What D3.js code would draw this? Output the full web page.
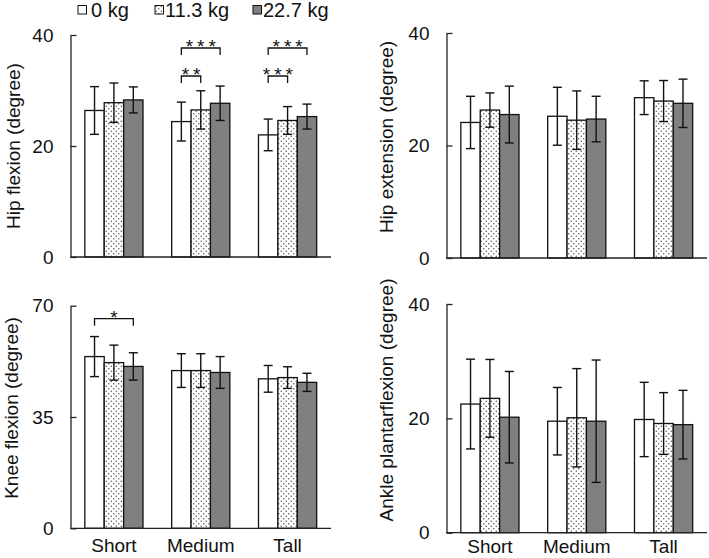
<!DOCTYPE html>
<html>
<head>
<meta charset="utf-8">
<script src="https://cdn.jsdelivr.net/npm/d3@7"></script>
<style>
  body { margin: 0; background: #fff; }
  svg { display: block; font-family: "Liberation Sans", Arial, sans-serif; }
</style>
</head>
<body>
<svg class="chart" width="709" height="558"></svg>
<script>
// categories and series
var groups = ["Short", "Medium", "Tall"];
var loads = ["0 kg", "11.3 kg", "22.7 kg"];

// means [group][load] and SD (degree)
var hipFlexMean = [[26.4, 27.8, 28.3], [24.4, 26.5, 27.7], [22.0, 24.6, 25.3]];
var hipFlexSD   = [[4.3, 3.55, 2.35], [3.5, 3.45, 3.1], [2.85, 2.5, 2.25]];
var hipExtMean  = [[24.1, 26.3, 25.5], [25.2, 24.5, 24.7], [28.5, 27.9, 27.5]];
var hipExtSD    = [[4.65, 3.05, 5.05], [5.15, 5.2, 4.05], [3.0, 3.65, 4.3]];
var kneeMean    = [[54.0, 52.1, 50.9], [49.6, 49.6, 49.0], [47.0, 47.4, 45.9]];
var kneeSD      = [[6.3, 5.5, 4.3], [5.3, 5.3, 5.0], [4.2, 3.4, 2.85]];
var ankleMean   = [[22.5, 23.5, 20.2], [19.5, 20.1, 19.5], [19.8, 19.1, 18.9]];
var ankleSD     = [[7.85, 6.8, 8.0], [5.9, 8.6, 10.7], [6.5, 5.4, 6.0]];

// tick labels
var ticks40 = [0, 20, 40];
var ticks70 = [0, 35, 70];

// significance brackets: group, from load, to load, tier (1 = upper), label
var hipFlexSig = [
  {group: "Medium", from: 0, to: 2, tier: 1, label: "***"},
  {group: "Medium", from: 0, to: 1, tier: 0, label: "**"},
  {group: "Tall",   from: 0, to: 2, tier: 1, label: "***"},
  {group: "Tall",   from: 0, to: 1, tier: 0, label: "***"}
];
var kneeSig = [
  {group: "Short", from: 0, to: 2, tier: 1, label: "*"}
];

var svg = d3.select("svg.chart");
svg.append("rect").attr("width", 709).attr("height", 558).attr("fill", "#fff");

// dotted fill for the 11.3 kg bars
var defs = svg.append("defs");
var pat = defs.append("pattern").attr("id", "dots")
    .attr("patternUnits", "userSpaceOnUse").attr("width", 5).attr("height", 5);
pat.append("rect").attr("width", 5).attr("height", 5).attr("fill", "#fff");
pat.append("circle").attr("cx", 1.25).attr("cy", 1.25).attr("r", 0.7).attr("fill", "#444");
pat.append("circle").attr("cx", 3.75).attr("cy", 3.75).attr("r", 0.7).attr("fill", "#444");

var fills = ["#fff", "url(#dots)", "#808080"];
var fs = 19;

function panel(cfg) {
  var g = svg.append("g");
  var x = d3.scaleBand().domain(groups).range([cfg.x0, cfg.x1])
      .paddingInner(0.33).paddingOuter(0.165);
  var xi = d3.scaleBand().domain(d3.range(loads.length)).range([0, x.bandwidth()]);
  var y = d3.scaleLinear().domain([0, cfg.max]).range([cfg.yBot, cfg.yTop]);

  var rows = [];
  groups.forEach(function(grp, gi) {
    loads.forEach(function(l, li) {
      rows.push({group: grp, li: li, mean: cfg.mean[gi][li], sd: cfg.sd[gi][li]});
    });
  });

  g.selectAll("rect.bar").data(rows).enter().append("rect")
      .attr("class", "bar")
      .attr("x", function(d) { return x(d.group) + xi(d.li); })
      .attr("y", function(d) { return y(d.mean); })
      .attr("width", xi.bandwidth())
      .attr("height", function(d) { return y(0) - y(d.mean); })
      .attr("fill", function(d) { return fills[d.li]; })
      .attr("stroke", "#111").attr("stroke-width", 1.3);

  var eb = g.selectAll("g.err").data(rows).enter().append("g")
      .attr("class", "err")
      .attr("transform", function(d) { return "translate(" + (x(d.group) + xi(d.li) + xi.bandwidth() / 2) + ",0)"; })
      .attr("stroke", "#111").attr("stroke-width", 1.4);
  eb.append("line").attr("y1", function(d) { return y(d.mean - d.sd); })
      .attr("y2", function(d) { return y(d.mean + d.sd); });
  eb.append("line").attr("x1", -4.5).attr("x2", 4.5)
      .attr("y1", function(d) { return y(d.mean + d.sd); })
      .attr("y2", function(d) { return y(d.mean + d.sd); });
  eb.append("line").attr("x1", -4.5).attr("x2", 4.5)
      .attr("y1", function(d) { return y(d.mean - d.sd); })
      .attr("y2", function(d) { return y(d.mean - d.sd); });

  // y axis, ticks pointing inward
  var ax = g.append("g").attr("transform", "translate(" + cfg.x0 + ",0)")
      .call(d3.axisLeft(y).tickValues(cfg.ticks).tickSize(-6).tickSizeOuter(0).tickPadding(17));
  ax.selectAll("path, line").attr("stroke", "#222").attr("stroke-width", 1.3);
  ax.selectAll("text").attr("font-size", fs).attr("fill", "#111")
      .attr("font-family", "Liberation Sans, Arial, sans-serif");

  // baseline
  g.append("line").attr("x1", cfg.x0).attr("x2", cfg.x1)
      .attr("y1", y(0)).attr("y2", y(0))
      .attr("stroke", "#222").attr("stroke-width", 1.3);

  g.append("text")
      .attr("transform", "translate(" + cfg.titleX + "," + cfg.titleY + ") rotate(-90)")
      .attr("text-anchor", "middle").attr("dominant-baseline", "central")
      .attr("font-size", fs).attr("fill", "#111")
      .text(cfg.title);

  if (cfg.cats) {
    g.selectAll("text.cat").data(groups).enter().append("text")
        .attr("class", "cat")
        .attr("x", function(d) { return x(d) + x.bandwidth() / 2; })
        .attr("y", cfg.catY)
        .attr("text-anchor", "middle").attr("font-size", fs).attr("fill", "#111")
        .text(function(d) { return d; });
  }

  (cfg.sig || []).forEach(function(s) {
    var xa = x(s.group) + xi(s.from) + xi.bandwidth() / 2;
    var xb = x(s.group) + xi(s.to) + xi.bandwidth() / 2;
    var yb = cfg.yTop + 13 + (1 - s.tier) * 28;
    g.append("path")
        .attr("d", "M" + xa + "," + (yb + 7) + "V" + yb + "H" + xb + "V" + (yb + 7))
        .attr("fill", "none").attr("stroke", "#111").attr("stroke-width", 1.3);
    g.append("text")
        .attr("x", (xa + xb) / 2 + 2).attr("y", yb + 5)
        .attr("text-anchor", "middle").attr("font-size", fs)
        .attr("letter-spacing", 4).attr("fill", "#111")
        .text(s.label);
  });
}

panel({x0: 70.5, x1: 331, yTop: 35, yBot: 257, max: 40, ticks: ticks40,
       mean: hipFlexMean, sd: hipFlexSD, title: "Hip flexion (degree)",
       titleX: 13, titleY: 146, sig: hipFlexSig});
panel({x0: 446.5, x1: 707, yTop: 33, yBot: 258, max: 40, ticks: ticks40,
       mean: hipExtMean, sd: hipExtSD, title: "Hip extension (degree)",
       titleX: 386, titleY: 137});
panel({x0: 70.5, x1: 331, yTop: 305.7, yBot: 528.3, max: 70, ticks: ticks70,
       mean: kneeMean, sd: kneeSD, title: "Knee flexion (degree)",
       titleX: 11, titleY: 408, sig: kneeSig, cats: true, catY: 552});
panel({x0: 446.5, x1: 707, yTop: 304, yBot: 532.7, max: 40, ticks: ticks40,
       mean: ankleMean, sd: ankleSD, title: "Ankle plantarflexion (degree)",
       titleX: 386, titleY: 400, cats: true, catY: 553});

// legend
var legX = [78, 155, 253];
var leg = svg.append("g").selectAll("g").data(loads).enter().append("g")
    .attr("transform", function(d, i) { return "translate(" + legX[i] + ",0)"; });
leg.append("rect").attr("x", 0).attr("y", 5.5).attr("width", 8.5).attr("height", 8.5)
    .attr("fill", function(d, i) { return fills[i]; })
    .attr("stroke", "#111").attr("stroke-width", 1);
leg.append("text").attr("x", function(d, i) { return i === 0 ? 13 : 10; }).attr("y", 16.5)
    .attr("font-size", 20).attr("fill", "#111")
    .text(function(d) { return d; });
</script>
</body>
</html>
